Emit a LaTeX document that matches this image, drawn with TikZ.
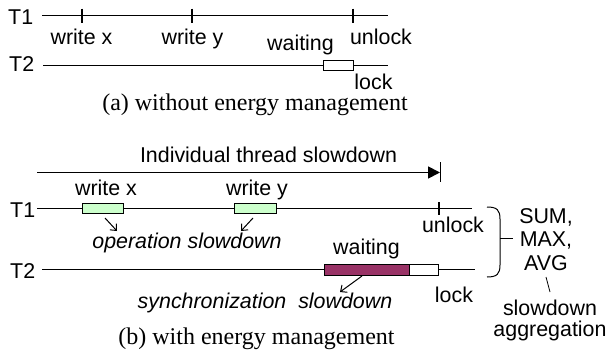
\documentclass[tikz,border=0pt]{standalone}
\usepackage{fontspec}
\setmainfont{Liberation Sans}
\newfontfamily\capfont{Liberation Serif}
\usetikzlibrary{arrows.meta}
\definecolor{opgreen}{RGB}{204,255,204}
\definecolor{syncpurple}{RGB}{153,51,102}
\begin{document}
\begin{tikzpicture}[x=1pt,y=-1pt,
  lbl/.style={font=\fontsize{21.4}{24}\selectfont, inner sep=0pt, anchor=base},
  ilbl/.style={lbl, font=\fontsize{21.4}{24}\selectfont\itshape},
  caption/.style={font=\capfont\fontsize{24}{28}\selectfont, inner sep=0pt, anchor=base},
  tline/.style={line width=1.1pt},
  tickmark/.style={line width=2.5pt},
  opbox/.style={draw, line width=1pt, inner sep=0pt, minimum height=10pt},
  ptr/.style={line width=1pt, -{Straight Barb[length=5pt,width=9pt]}},
]
\useasboundingbox (0,0) rectangle (608,350);

% ---------- (a) without energy management ----------
\node[lbl, anchor=base west] (aT1) at (8,25) {T1};
\coordinate (a1s) at (42,15.7);
\coordinate (a1e) at (388,15.7);
\draw[tline] (a1s) -- (a1e);
\coordinate (atx) at (82,15.7);
\coordinate (aty) at (192,15.7);
\coordinate (atu) at (353,15.7);
\foreach \c in {atx,aty,atu}
  \draw[tickmark] ([yshift=7pt]\c) -- ([yshift=-7pt]\c);
\node[lbl] (awx) at (81.5,45) {write x};
\node[lbl] (awy) at (192.5,45) {write y};
\node[lbl] (aun) at (381,45) {unlock};

\node[lbl, anchor=base west] (aT2) at (9,72) {T2};
\coordinate (a2s) at (43,65.7);
\coordinate (a2e) at (388,65.7);
\draw[tline] (a2s) -- (a2e);
\node[opbox, fill=white, minimum width=30pt] (await) at (338,66) {};
\node[lbl] (awl) at (300.5,51) {waiting};
\node[lbl] (alock) at (373.5,90) {lock};
\node[caption] (capa) at (255,111) {(a) without energy management};

% ---------- (b) with energy management ----------
\node[lbl] (ind) at (268.5,163) {Individual thread slowdown};
\coordinate (bs) at (37,172.5);
\coordinate (be) at (440,172.5);
\draw[line width=1.8pt, -{Triangle[length=12pt,width=12pt]}] (bs) -- (be);
\draw[line width=1pt] ([yshift=10pt]be) -- ([yshift=-10pt]be);

\node[lbl, anchor=base west] (bT1) at (10,218) {T1};
\coordinate (b1s) at (37,208.5);
\coordinate (b1e) at (472,208.5);
\draw[tline] (b1s) -- (b1e);
\node[opbox, fill=opgreen, minimum width=41pt] (bx) at (102.5,208) {};
\node[opbox, fill=opgreen, minimum width=42pt] (by) at (255,208) {};
\node[lbl] (bwx) at (106,195) {write x};
\node[lbl] (bwy) at (257,195) {write y};
\coordinate (btu) at (439,208.5);
\draw[tickmark] ([yshift=6.5pt]btu) -- ([yshift=-6.5pt]btu);
\node[lbl] (bun) at (453,233) {unlock};

\coordinate (p1s) at (105,218);
\coordinate (p1e) at (117,231);
\coordinate (p2s) at (253,218);
\coordinate (p2e) at (241,231);
\draw[ptr] (p1s) -- (p1e);
\draw[ptr] (p2s) -- (p2e);
\node[ilbl] (opsl) at (187,248) {operation slowdown};

\node[lbl, anchor=base west] (bT2) at (10,278) {T2};
\coordinate (b2s) at (42,269.5);
\coordinate (b2e) at (475,269.5);
\draw[tline] (b2s) -- (b2e);
\node[opbox, fill=syncpurple, minimum width=85pt, minimum height=11pt] (bsync) at (366.5,269.5) {};
\node[opbox, fill=white, minimum width=29pt, minimum height=11pt] (bwait) at (423.5,269.5) {};
\node[lbl] (bwl) at (366.5,254) {waiting};
\node[lbl] (block) at (454,302) {lock};
\coordinate (p3s) at (362,276);
\coordinate (p3e) at (340,292);
\draw[ptr] (p3s) -- (p3e);
\node[ilbl] (syncsl) at (265,308) {synchronization\ \ slowdown};
\node[caption] (capb) at (256.5,344) {(b) with energy management};

% ---------- brace and aggregation ----------
\coordinate (brt) at (487,207);
\coordinate (brb) at (487,277);
\coordinate (brm) at (500,238);
\coordinate (brtip) at (513,238);
\draw[line width=1pt] (brt) .. controls (497,207) and (500,210) .. (500,219)
  -- (500,265) .. controls (500,274) and (497,277) .. (brb);
\draw[line width=1pt] (brm) -- (brtip);
\node[lbl] (sum) at (546,223) {SUM,};
\node[lbl] (max) at (546,246) {MAX,};
\node[lbl] (avg) at (546,270) {AVG};
\node[lbl] (slow) at (550,315) {slowdown};
\node[lbl] (aggr) at (550,336) {aggregation};
\draw[line width=0.8pt] ([yshift=-7pt]avg.base) -- ([yshift=23pt]slow.base);
\end{tikzpicture}
\end{document}
